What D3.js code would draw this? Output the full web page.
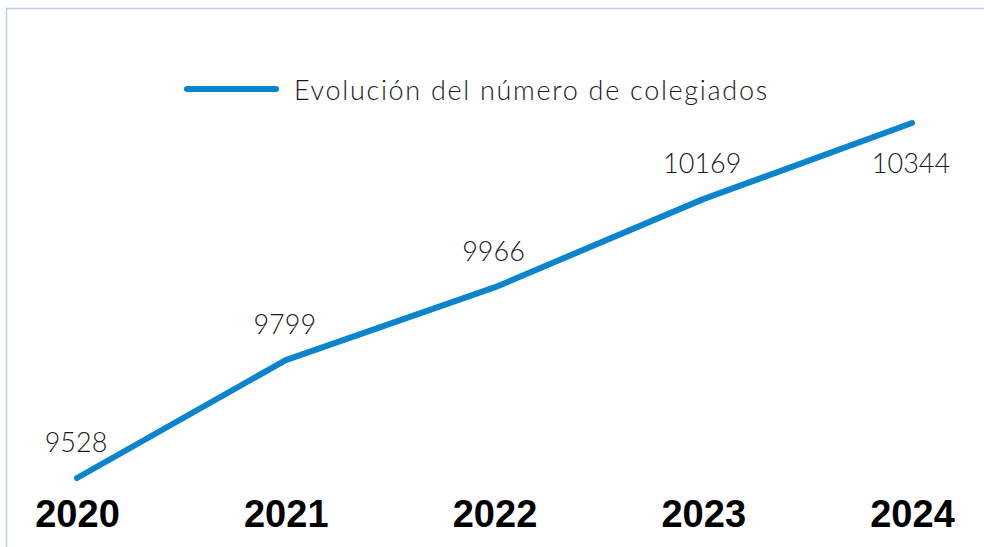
<!DOCTYPE html>
<html>
<head>
<meta charset="utf-8">
<script src="https://cdn.jsdelivr.net/npm/d3@7"></script>
<style>
  body { margin: 0; background: #fff; }
  svg { display: block; }
</style>
</head>
<body>
<div id="chart"></div>
<script>
// chart data
const years = ['2020', '2021', '2022', '2023', '2024'];
const colegiados = [9528, 9799, 9966, 10169, 10344];
const labelBelow = [false, false, false, false, true];
const seriesName = 'Evolución del número de colegiados';

const width = 984, height = 547;
const margin = { top: 123, bottom: 69, left: 77, right: 72 };
const lineColor = '#0a84cc';

const svg = d3.select('#chart').append('svg')
  .attr('width', width)
  .attr('height', height);

// chart frame (right/bottom edges fall outside the picture)
svg.append('rect')
  .attr('x', 6.5).attr('y', 8.5)
  .attr('width', width + 20).attr('height', height + 20)
  .attr('fill', 'none')
  .attr('stroke', '#bccde6')
  .attr('stroke-width', 1.5);

const xScale = d3.scalePoint()
  .domain(years)
  .range([margin.left, width - margin.right]);

const yScale = d3.scaleLinear()
  .domain([d3.min(colegiados), d3.max(colegiados)])
  .range([height - margin.bottom, margin.top]);

const data = years.map((y, i) => ({ year: y, value: colegiados[i], below: labelBelow[i] }));

const line = d3.line()
  .x(d => xScale(d.year))
  .y(d => yScale(d.value));

svg.append('path')
  .datum(data)
  .attr('fill', 'none')
  .attr('stroke', lineColor)
  .attr('stroke-width', 6)
  .attr('stroke-linecap', 'round')
  .attr('stroke-linejoin', 'round')
  .attr('d', line);

// value labels
svg.selectAll('.val')
  .data(data)
  .join('text')
  .attr('class', 'val')
  .attr('x', d => xScale(d.year) - 1)
  .attr('y', d => yScale(d.value) + (d.below ? 50 : -26))
  .attr('text-anchor', 'middle')
  .attr('font-family', 'Lato, sans-serif')
  .attr('font-weight', 300)
  .attr('font-size', 27)
  .attr('fill', '#1a1a1a')
  .text(d => d.value);

// x axis labels
const xAxis = d3.axisBottom(xScale).tickSize(0).tickPadding(0);
const xg = svg.append('g')
  .attr('transform', `translate(0, ${height - 20})`)
  .call(xAxis);
xg.select('.domain').remove();
xg.selectAll('text')
  .attr('dy', 0)
  .attr('font-family', '"Liberation Sans", Arial, sans-serif')
  .attr('font-weight', 'bold')
  .attr('font-size', 38)
  .attr('fill', '#000');

// legend
const legend = svg.append('g').attr('transform', 'translate(187, 89)');
legend.append('line')
  .attr('x1', 0).attr('x2', 89)
  .attr('stroke', lineColor)
  .attr('stroke-width', 6)
  .attr('stroke-linecap', 'round');
legend.append('text')
  .attr('x', 107).attr('y', 11)
  .attr('font-family', 'Lato, sans-serif')
  .attr('font-weight', 300)
  .attr('font-size', 27)
  .attr('letter-spacing', 1.7)
  .attr('fill', '#1a1a1a')
  .text(seriesName);
</script>
</body>
</html>
